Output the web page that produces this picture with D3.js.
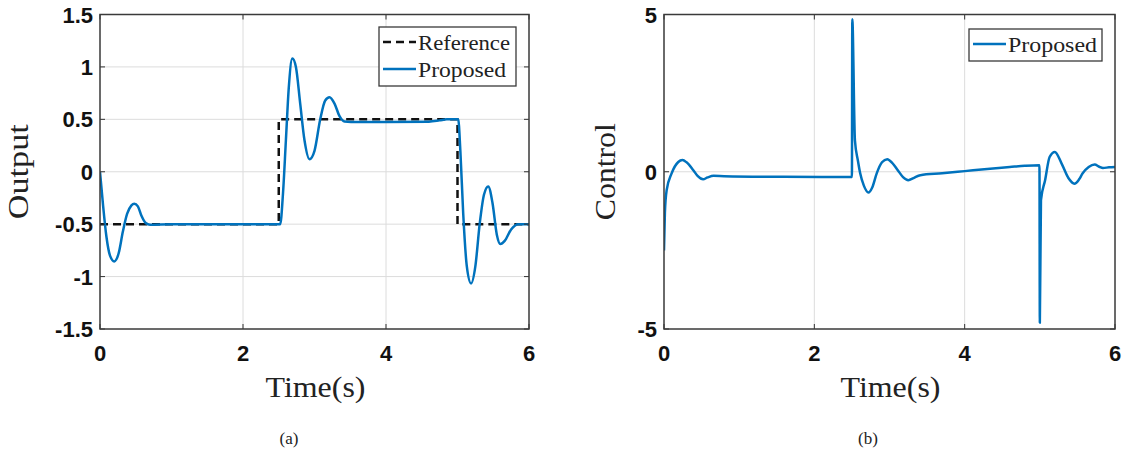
<!DOCTYPE html>
<html>
<head>
<meta charset="utf-8">
<script src="https://cdn.jsdelivr.net/npm/d3@7"></script>
<style>
  html, body { margin: 0; padding: 0; background: #fff; }
  svg { display: block; }
  .tick-label { font-family: "Liberation Sans", Arial, sans-serif; font-weight: bold; font-size: 22px; fill: #111; }
  .serif { font-family: "Liberation Serif", "Times New Roman", serif; fill: #222; }
</style>
</head>
<body>
<svg id="fig" width="1124" height="457"></svg>
<script>
// Time axis ticks shared by both panels
const timeTicks = [0, 2, 4, 6];

// Panel (a): output response
const outputTicks = [-1.5, -1, -0.5, 0, 0.5, 1, 1.5];
const referenceSignal = [
  [0, -0.5], [2.5, -0.5], [2.5, 0.5], [5.0, 0.5], [5.0, -0.5], [6.0, -0.5]
];
const outputProposed = [
  [0, 0], [0.04, -0.3], [0.09, -0.62], [0.14, -0.8], [0.2, -0.855], [0.26, -0.78],
  [0.32, -0.57], [0.38, -0.4], [0.44, -0.32], [0.48, -0.305], [0.53, -0.33],
  [0.58, -0.42], [0.64, -0.49], [0.7, -0.505], [1.0, -0.5], [2.0, -0.5], [2.52, -0.5],
  [2.56, -0.2], [2.6, 0.3], [2.64, 0.8], [2.69, 1.08], [2.74, 1.0], [2.8, 0.65],
  [2.86, 0.3], [2.93, 0.12], [3.0, 0.2], [3.08, 0.5], [3.15, 0.68], [3.21, 0.71],
  [3.28, 0.65], [3.35, 0.53], [3.42, 0.48], [3.6, 0.475], [4.0, 0.475], [4.6, 0.478],
  [4.75, 0.49], [4.85, 0.5], [5.01, 0.5], [5.04, 0.2], [5.08, -0.4], [5.13, -0.9],
  [5.19, -1.065], [5.25, -0.9], [5.31, -0.5], [5.37, -0.22], [5.43, -0.14],
  [5.49, -0.3], [5.55, -0.6], [5.6, -0.69], [5.66, -0.66], [5.75, -0.55],
  [5.85, -0.5], [6.0, -0.5]
];

// Panel (b): control effort
const controlTicks = [-5, 0, 5];
const controlProposed = [
  [0, -2.5], [0.012, -1.3], [0.035, -0.59], [0.1, -0.06], [0.19, 0.31], [0.245, 0.37],
  [0.3, 0.3], [0.39, 0.05], [0.45, -0.14], [0.52, -0.24], [0.58, -0.18], [0.66, -0.13],
  [0.8, -0.14], [1.59, -0.16], [2.5, -0.165], [2.505, 4.85], [2.54, 1.0],
  [2.58, 0.35], [2.61, -0.05], [2.66, -0.45], [2.72, -0.66], [2.77, -0.5],
  [2.83, -0.05], [2.9, 0.3], [2.97, 0.4], [3.04, 0.27], [3.11, 0.05], [3.18, -0.17],
  [3.25, -0.27], [3.32, -0.2], [3.41, -0.11], [3.7, -0.05], [4.0, 0.02], [4.3, 0.09],
  [4.6, 0.15], [4.8, 0.19], [4.995, 0.21], [5.0, -4.8], [5.015, -0.9],
  [5.07, -0.27], [5.13, 0.47], [5.2, 0.63], [5.29, 0.26], [5.38, -0.2], [5.46, -0.38],
  [5.52, -0.25], [5.57, -0.05], [5.65, 0.15], [5.73, 0.23], [5.79, 0.16], [5.84, 0.12],
  [5.92, 0.14], [6.0, 0.15]
];

const BLUE = "#0072BD";
const svg = d3.select("#fig");

function panel(opts) {
  const x = d3.scaleLinear().domain([0, 6]).range([opts.left, opts.right]);
  const y = d3.scaleLinear().domain(opts.yDomain).range([opts.bottom, opts.top]);
  const g = svg.append("g");

  // grid
  g.append("g").selectAll("line").data(timeTicks.slice(1, -1)).join("line")
    .attr("x1", d => x(d)).attr("x2", d => x(d))
    .attr("y1", opts.top).attr("y2", opts.bottom)
    .attr("stroke", "#dcdcdc").attr("stroke-width", 1);
  g.append("g").selectAll("line").data(opts.yTicks.filter(v => v > opts.yDomain[0] && v < opts.yDomain[1])).join("line")
    .attr("x1", opts.left).attr("x2", opts.right)
    .attr("y1", d => y(d)).attr("y2", d => y(d))
    .attr("stroke", "#dcdcdc").attr("stroke-width", 1);

  // clip for data
  const clipId = "clip-" + opts.name;
  svg.append("clipPath").attr("id", clipId).append("rect")
    .attr("x", opts.left).attr("y", opts.top - 2)
    .attr("width", opts.right - opts.left).attr("height", opts.bottom - opts.top + 4);
  const dataG = g.append("g").attr("clip-path", `url(#${clipId})`);

  opts.series.forEach(s => {
    const gen = d3.line().x(d => x(d[0])).y(d => y(d[1]))
      .curve(s.step ? d3.curveLinear : d3.curveMonotoneX);
    dataG.append("path").datum(s.data)
      .attr("d", gen)
      .attr("fill", "none")
      .attr("stroke", s.color)
      .attr("stroke-width", s.width)
      .attr("stroke-dasharray", s.dash || null)
      .attr("stroke-linejoin", "round");
  });

  // ticks (inward, on all four sides)
  const tl = 5;
  const tg = g.append("g").attr("stroke", "#333").attr("stroke-width", 1);
  timeTicks.forEach(t => {
    tg.append("line").attr("x1", x(t)).attr("x2", x(t)).attr("y1", opts.bottom).attr("y2", opts.bottom - tl);
    tg.append("line").attr("x1", x(t)).attr("x2", x(t)).attr("y1", opts.top).attr("y2", opts.top + tl);
  });
  opts.yTicks.forEach(v => {
    tg.append("line").attr("x1", opts.left).attr("x2", opts.left + tl).attr("y1", y(v)).attr("y2", y(v));
    tg.append("line").attr("x1", opts.right).attr("x2", opts.right - tl).attr("y1", y(v)).attr("y2", y(v));
  });

  // box
  g.append("rect").attr("x", opts.left).attr("y", opts.top)
    .attr("width", opts.right - opts.left).attr("height", opts.bottom - opts.top)
    .attr("fill", "none").attr("stroke", "#3a3a3a").attr("stroke-width", 1.5);

  // tick labels (plain hyphen-minus, as typeset in the figure)
  g.selectAll("text.xt").data(timeTicks).join("text")
    .attr("class", "tick-label")
    .attr("x", d => x(d)).attr("y", opts.bottom + 32)
    .attr("text-anchor", "middle")
    .text(d => String(d));
  g.selectAll("text.yt").data(opts.yTicks).join("text")
    .attr("class", "tick-label")
    .attr("x", opts.left - 7).attr("y", d => y(d) + 8)
    .attr("text-anchor", "end")
    .text(d => String(d));

  // axis titles
  g.append("text").attr("class", "serif")
    .attr("x", (opts.left + opts.right) / 2 + 1).attr("y", 397)
    .attr("text-anchor", "middle").attr("font-size", 30)
    .attr("textLength", 100).attr("lengthAdjust", "spacingAndGlyphs")
    .text("Time(s)");
  g.append("text").attr("class", "serif")
    .attr("transform", `translate(${opts.yLabelX},${(opts.top + opts.bottom) / 2}) rotate(-90)`)
    .attr("text-anchor", "middle").attr("font-size", 30)
    .attr("textLength", opts.yLabelLen).attr("lengthAdjust", "spacingAndGlyphs")
    .text(opts.yLabel);

  // caption
  g.append("text").attr("class", "serif")
    .attr("x", opts.captionX).attr("y", 444)
    .attr("text-anchor", "middle").attr("font-size", 17)
    .text(opts.caption);

  // legend
  const L = opts.legend;
  g.append("rect").attr("x", L.x).attr("y", L.y).attr("width", L.w).attr("height", L.h)
    .attr("fill", "#fff").attr("stroke", "#3a3a3a").attr("stroke-width", 1.3);
  L.items.forEach((it, i) => {
    const cy = L.y + 15 + i * 27;
    g.append("line").attr("x1", L.x + 4).attr("x2", L.x + 37).attr("y1", cy).attr("y2", cy)
      .attr("stroke", it.color).attr("stroke-width", 2.5)
      .attr("stroke-dasharray", it.dash || null);
    g.append("text").attr("class", "serif")
      .attr("x", L.x + 39).attr("y", cy + 8).attr("font-size", 22)
      .attr("textLength", it.len).attr("lengthAdjust", "spacingAndGlyphs")
      .text(it.label);
  });
}

panel({
  name: "a", left: 100, right: 529, top: 14.5, bottom: 329,
  yDomain: [-1.5, 1.5], yTicks: outputTicks,
  yLabel: "Output", yLabelX: 28, yLabelLen: 95,
  caption: "(a)", captionX: 289,
  series: [
    { data: referenceSignal, color: "#111", width: 2.5, dash: "8,5", step: true },
    { data: outputProposed, color: BLUE, width: 2.5 }
  ],
  legend: { x: 379, y: 27, w: 137, h: 59, items: [
    { label: "Reference", color: "#111", dash: "8,5", len: 92 },
    { label: "Proposed", color: BLUE, len: 88 }
  ] }
});

panel({
  name: "b", left: 664, right: 1115, top: 14.5, bottom: 329,
  yDomain: [-5, 5], yTicks: controlTicks,
  yLabel: "Control", yLabelX: 615, yLabelLen: 97,
  caption: "(b)", captionX: 868,
  series: [
    { data: controlProposed, color: BLUE, width: 2.5 }
  ],
  legend: { x: 969, y: 29, w: 133, h: 32, items: [
    { label: "Proposed", color: BLUE, len: 89 }
  ] }
});
</script>
</body>
</html>
